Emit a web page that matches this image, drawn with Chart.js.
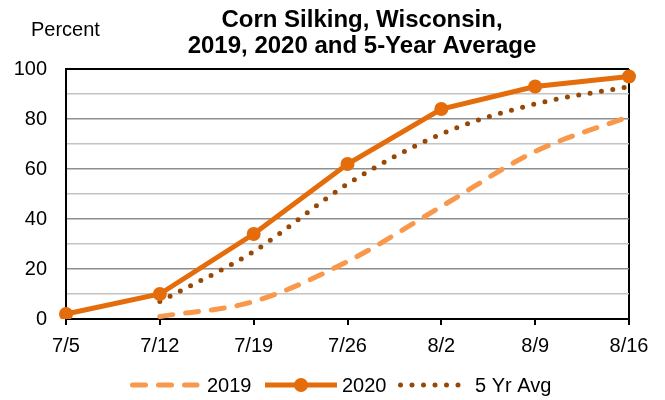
<!DOCTYPE html>
<html>
<head>
<meta charset="utf-8">
<script src="https://cdn.jsdelivr.net/npm/chart.js@4.4.1/dist/chart.umd.min.js"></script>
<style>
  html, body { margin: 0; padding: 0; background: #fff; }
  #wrap { position: relative; width: 665px; height: 400px; }
</style>
</head>
<body>
<div id="wrap"><canvas id="c" width="665" height="400"></canvas></div>
<script>
// ---- data ----
const categories = ['7/5', '7/12', '7/19', '7/26', '8/2', '8/9', '8/16'];
const series2019 = [null, 1, 7, 23, 45, 67, 81];
const series2020 = [2, 10, 34, 62, 84, 93, 97];
const series5yr = [null, 7, 27, 54, 74, 86, 93];
const seriesNames = ['2019', '2020', '5 Yr Avg'];
const titleLines = ['Corn Silking, Wisconsin,', '2019, 2020 and 5-Year Average'];
const yAxisTitle = 'Percent';

const FONT = "'Liberation Sans', Arial, sans-serif";
const C2019 = '#F9984A';
const C2020 = '#E46C0A';
const CAVG = '#974806';

const decorPlugin = {
  id: 'decor',
  afterDraw(chart) {
    const ctx = chart.ctx;
    ctx.save();
    // title
    ctx.fillStyle = '#000';
    ctx.textAlign = 'center';
    ctx.textBaseline = 'alphabetic';
    ctx.font = 'bold 24px ' + FONT;
    ctx.fillText(titleLines[0], 362, 27);
    ctx.fillText(titleLines[1], 362, 53);
    // y axis title
    ctx.textAlign = 'left';
    ctx.font = '20px ' + FONT;
    ctx.fillText(yAxisTitle, 31, 36);
    // legend
    const items = [
      { x0: 130, x1: 197, tx: 207 },
      { x0: 265, x1: 337, tx: 342 },
      { x0: 398, x1: 463, tx: 475 }
    ];
    const ly = 385;
    chart.data.datasets.forEach((ds, i) => {
      const it = items[i];
      ctx.save();
      ctx.strokeStyle = ds.borderColor;
      ctx.lineWidth = ds.borderWidth;
      ctx.lineCap = ds.borderCapStyle || 'butt';
      ctx.setLineDash(ds.borderDash || []);
      ctx.beginPath();
      ctx.moveTo(it.x0 + (ds.borderCapStyle === 'round' ? 2.5 : 0), ly);
      ctx.lineTo(it.x1, ly);
      ctx.stroke();
      if (ds.pointRadius > 0) {
        ctx.setLineDash([]);
        ctx.fillStyle = ds.pointBackgroundColor;
        ctx.beginPath();
        ctx.arc((it.x0 + it.x1) / 2, ly, ds.pointRadius, 0, Math.PI * 2);
        ctx.fill();
      }
      ctx.restore();
      ctx.fillStyle = '#000';
      ctx.textAlign = 'left';
      ctx.textBaseline = 'middle';
      ctx.font = '20px ' + FONT;
      ctx.fillText(ds.label, it.tx, ly + 1);
    });
    ctx.restore();
  }
};

new Chart(document.getElementById('c'), {
  type: 'line',
  data: {
    labels: categories,
    datasets: [
      {
        label: seriesNames[0], data: series2019,
        borderColor: C2019, backgroundColor: C2019, borderWidth: 5,
        borderDash: [13, 13], borderCapStyle: 'round',
        pointRadius: 0, pointHoverRadius: 0, cubicInterpolationMode: 'monotone', spanGaps: false
      },
      {
        label: seriesNames[1], data: series2020,
        borderColor: C2020, backgroundColor: C2020, borderWidth: 5,
        pointRadius: 7, pointBackgroundColor: C2020, pointBorderColor: C2020, pointBorderWidth: 0,
        tension: 0
      },
      {
        label: seriesNames[2], data: series5yr,
        borderColor: CAVG, backgroundColor: CAVG, borderWidth: 5,
        borderDash: [0, 11.5], borderCapStyle: 'round',
        pointRadius: 0, pointHoverRadius: 0, cubicInterpolationMode: 'monotone'
      }
    ]
  },
  options: {
    responsive: false,
    animation: false,
    devicePixelRatio: 1,
    layout: { padding: { top: 69, right: 36, bottom: 41, left: 0 } },
    plugins: {
      legend: { display: false },
      title: { display: false },
      tooltip: { enabled: false }
    },
    scales: {
      x: {
        type: 'category',
        offset: false,
        afterFit(scale) { scale.height = 40; },
        grid: {
          display: true,
          drawOnChartArea: true,
          drawTicks: true,
          tickLength: 6,
          tickColor: '#000',
          tickWidth: 2,
          lineWidth: 2,
          color: (ctx) => (ctx.index === categories.length - 1 ? '#000' : 'rgba(0,0,0,0)')
        },
        border: { display: true, color: '#000', width: 2 },
        ticks: {
          color: '#000', font: { family: FONT, size: 20 }, padding: 9,
          maxRotation: 0, autoSkip: false
        }
      },
      y: {
        min: 0, max: 100,
        afterFit(scale) { scale.width = 66; },
        grid: {
          drawTicks: false,
          tickLength: 0,
          color: (ctx) => {
            const v = ctx.tick ? ctx.tick.value : 0;
            if (v === 100) return '#000';
            return v % 20 === 0 ? '#8e8e8e' : '#c4c4c4';
          },
          lineWidth: (ctx) => (ctx.tick && ctx.tick.value === 100 ? 2 : 1.5)
        },
        border: { display: true, color: '#000', width: 2 },
        ticks: {
          stepSize: 10,
          autoSkip: false,
          padding: 19,
          color: '#000',
          font: { family: FONT, size: 20 },
          callback: (v) => (v % 20 === 0 ? String(v) : '')
        }
      }
    }
  },
  plugins: [decorPlugin]
});
</script>
</body>
</html>
